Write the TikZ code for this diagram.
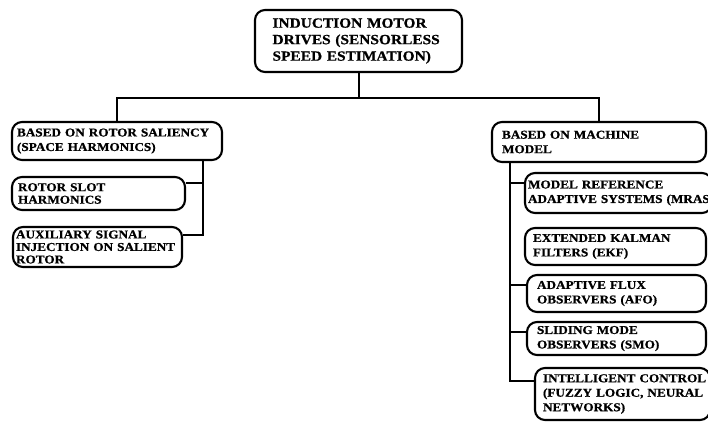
\documentclass[tikz,border=0pt]{standalone}
\usepackage{fontspec}
\setmainfont{Liberation Serif}[FakeStretch=1.1, BoldFeatures={FakeBold=0.8}]
\usetikzlibrary{calc}

\tikzset{
  box/.style={draw, line width=2.1pt, rounded corners=10pt, align=left, inner sep=0pt,
    font=\bfseries\fontsize{12}{14.5}\selectfont},
  tightbox/.style={box, font=\bfseries\fontsize{12}{12.5}\selectfont},
  conn/.style={line width=2pt}
}

\begin{document}
\begin{tikzpicture}[x=1pt,y=-1pt]
		% Page frame (pixel units, y going down)
		\useasboundingbox (0,0) rectangle (708,421);
		\clip (0,0) rectangle (708,421);
		
		% Root box
		\node[box, minimum width=207, minimum height=62, text width=172,
		  font=\bfseries\fontsize{14}{16.5}\selectfont] (top) at (358.5,41)
		  {INDUCTION MOTOR\\\mbox{DRIVES (SENSORLESS}\\\mbox{SPEED ESTIMATION)}};
		
		% Left branch: rotor saliency
		\node[box, minimum width=210, minimum height=38, text width=200] (saliency) at (117,141)
		  {BASED ON ROTOR SALIENCY\\(SPACE HARMONICS)};
		\node[tightbox, minimum width=173, minimum height=33, text width=161] (rotorslot) at (98.5,193.5)
		  {ROTOR SLOT\\HARMONICS};
		\node[tightbox, minimum width=169, minimum height=40, text width=163] (auxsignal) at (97.5,247)
		  {AUXILIARY SIGNAL\\\mbox{INJECTION ON SALIENT}\\ROTOR};
		
		% Right branch: machine model
		\node[box, minimum width=214, minimum height=40, text width=194] (model) at (599,142)
		  {BASED ON MACHINE\\MODEL};
		\node[box, minimum width=187, minimum height=40, text width=181] (mras) at (618.5,193)
		  {MODEL REFERENCE\\\mbox{ADAPTIVE SYSTEMS (MRAS}};
		\node[box, minimum width=181, minimum height=37, text width=165] (ekf) at (615.5,246.5)
		  {EXTENDED KALMAN\\FILTERS (EKF)};
		\node[box, minimum width=179, minimum height=37, text width=159] (afo) at (616.5,293.5)
		  {ADAPTIVE FLUX\\OBSERVERS (AFO)};
		\node[box, minimum width=179, minimum height=33, text width=159] (smo) at (616.5,338.5)
		  {SLIDING MODE\\OBSERVERS (SMO)};
		\node[box, minimum width=175, minimum height=52, text width=159] (intel) at (622.5,394)
		  {\mbox{INTELLIGENT CONTROL}\\\mbox{(FUZZY LOGIC, NEURAL}\\NETWORKS)};
		
		% Root to the two branches
		\draw[conn] (top.south) -- ++(0,25) coordinate (bus);
		\draw[conn] (bus) -| (saliency.north);
		\draw[conn] (bus) -| (model.north);
		
		% Left bus
		\coordinate (lbus) at ([xshift=-20pt]saliency.south east);
		\draw[conn] (lbus) |- ([yshift=12pt]auxsignal.east);
		\path ([yshift=11pt]rotorslot.east) coordinate (rsj);
		\draw[conn] (rsj) -- (rsj -| lbus);
		
		% Right bus
		\coordinate (rbus) at ([xshift=19pt]model.south west);
		\draw[conn] (rbus) |- ([yshift=13pt]intel.west);
		\foreach \b/\s in {mras/10pt,afo/8.5pt,smo/6.5pt}{
		  \path ([yshift=\s]\b.west) coordinate (j);
		  \draw[conn] (j) -- (j -| rbus);
		}
	\end{tikzpicture}
\end{document}
